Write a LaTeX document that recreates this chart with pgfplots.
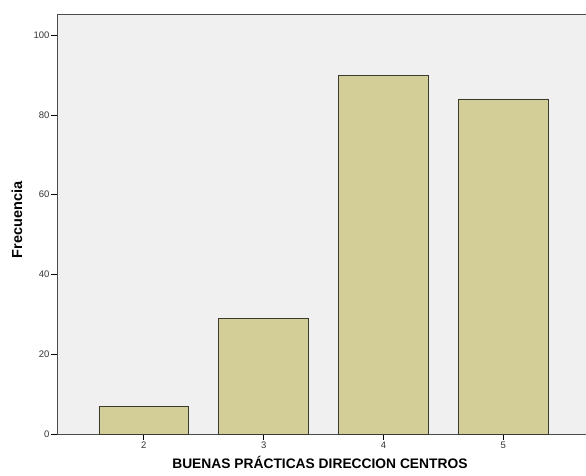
\documentclass[border=0pt]{standalone}
\usepackage{fontspec}
\setmainfont{Liberation Sans}
\usepackage{pgfplots}
\pgfplotsset{compat=1.18}
\definecolor{barfill}{HTML}{D3CE97}
\definecolor{plotbg}{HTML}{F0F0F0}
\definecolor{edge}{HTML}{3A3A30}
\begin{document}
\begin{tikzpicture}[x=1pt,y=1pt]
\begin{axis}[
  at={(0,0)}, anchor=south west,
  width=529pt, height=420pt, scale only axis,
  xmin=1.275, xmax=5.69, ymin=0, ymax=105.3,
  axis background/.style={fill=plotbg},
  axis line style={draw=black!70, line width=0.8pt},
  ytick={0,20,40,60,80,100},
  xtick={2,3,4,5},
  tick align=outside,
  major tick length=6pt,
  tick style={black, line width=0.8pt},
  xtick pos=bottom, ytick pos=left,
  tick label style={font=\fontsize{9.5}{11}\selectfont, text=black!80},
  yticklabel style={xshift=2pt},
  xticklabel style={yshift=2pt},
  /pgf/number format/assume math mode=true,
  xlabel={\textbf{BUENAS PRÁCTICAS DIRECCION CENTROS}},
  ylabel={\textbf{Frecuencia}},
  xlabel style={font=\fontsize{13.8}{15}\selectfont, at={(axis description cs:0.497,-0.081)}, anchor=base},
  ylabel style={font=\fontsize{14.5}{16}\selectfont, at={(axis description cs:-0.0756,0.51)}, anchor=center},
  ybar, bar width=0.75, bar shift=0pt,
]
\addplot[fill=barfill, draw=edge, line width=0.8pt] coordinates {(2,7) (3,29) (4,90) (5,84)};
\end{axis}
\pgfresetboundingbox
\path[use as bounding box] (-57pt,-41pt) rectangle (529pt,434pt);
\end{tikzpicture}
\end{document}
